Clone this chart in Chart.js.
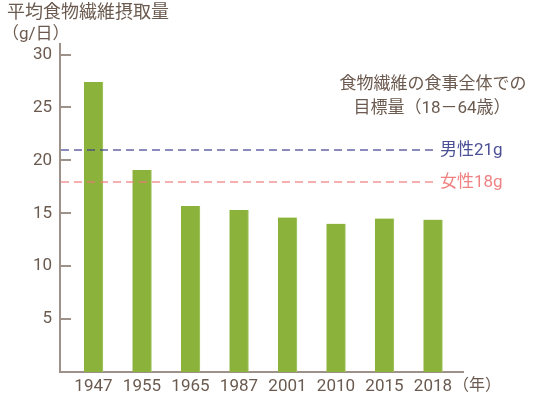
<!DOCTYPE html>
<html>
<head>
<meta charset="utf-8">
<script src="https://cdn.jsdelivr.net/npm/chart.js@4"></script>
<style>
  body { margin: 0; background: #fff; }
  canvas { display: block; }
</style>
</head>
<body>
<canvas id="chart" width="534" height="394"></canvas>
<script>
// data
const years = ['1947', '1955', '1965', '1987', '2001', '2010', '2015', '2018'];
const intake = [27.4, 19.1, 15.7, 15.3, 14.6, 14.0, 14.5, 14.4];
const yTicks = [5, 10, 15, 20, 25, 30];
const targetValues = [21, 18];
const targetLabels = ['男性21g', '女性18g'];
const targetColors = ['rgba(60,62,140,0.6)', 'rgba(240,120,120,0.6)'];
const targetTextColors = ['#4c5094', '#ef8282'];

const FONT = "Roboto, 'Noto Sans CJK JP', sans-serif";
const TEXT = '#6b5a4f';
const AXIS = '#9d918a';

const extras = {
  id: 'extras',
  afterDatasetsDraw(chart) {
    const { ctx, chartArea, scales: { x, y } } = chart;
    ctx.save();
    // reference lines
    ctx.lineWidth = 2;
    ctx.setLineDash([8, 5]);
    targetValues.forEach((v, i) => {
      const py = Math.round(y.getPixelForValue(v));
      ctx.strokeStyle = targetColors[i];
      ctx.beginPath();
      ctx.moveTo(chartArea.left + 1, py);
      ctx.lineTo(chartArea.right - 28, py);
      ctx.stroke();
      ctx.fillStyle = targetTextColors[i];
      ctx.font = '17px ' + FONT;
      ctx.textBaseline = 'middle';
      ctx.textAlign = 'left';
      ctx.fillText(targetLabels[i], chartArea.right - 23, py + 1);
    });
    ctx.setLineDash([]);
    // y tick marks on the inside of the axis
    ctx.strokeStyle = AXIS;
    ctx.lineWidth = 2;
    yTicks.forEach(v => {
      const py = Math.round(y.getPixelForValue(v));
      ctx.beginPath();
      ctx.moveTo(chartArea.left, py);
      ctx.lineTo(chartArea.left + 11, py);
      ctx.stroke();
    });
    // texts
    ctx.fillStyle = TEXT;
    ctx.textBaseline = 'alphabetic';
    ctx.textAlign = 'left';
    ctx.font = '18px ' + FONT;
    ctx.fillText('平均食物繊維摂取量', 7, 18);
    ctx.font = '17px ' + FONT;
    ctx.fillText('（g/日）', 2, 39);
    ctx.textAlign = 'center';
    ctx.font = '17px ' + FONT;
    ctx.fillText('食物繊維の食事全体での', 433, 89);
    ctx.fillText('目標量（18－64歳）', 432, 113);
    ctx.textAlign = 'left';
    ctx.font = '16px ' + FONT;
    const lastX = x.getPixelForValue(years.length - 1);
    ctx.fillText('（年）', lastX + 20, 390);
    ctx.restore();
  }
};

new Chart(document.getElementById('chart'), {
  type: 'bar',
  data: {
    datasets: [{
      data: intake.map((v, i) => ({ x: i, y: v })),
      backgroundColor: '#8bb23a',
      borderColor: '#a6c86a',
      borderWidth: { right: 1 },
      barThickness: 19
    }]
  },
  options: {
    responsive: false,
    devicePixelRatio: 1,
    animation: false,
    layout: { padding: { top: 44, right: 71, left: 0, bottom: 0 } },
    plugins: { legend: { display: false }, tooltip: { enabled: false } },
    scales: {
      x: {
        type: 'linear',
        offset: false,
        min: -0.69,
        max: 7.62,
        afterBuildTicks: axis => { axis.ticks = years.map((_, i) => ({ value: i })); },
        afterFit: axis => { axis.height = 22; },
        grid: { display: false, drawTicks: false, offset: false },
        border: { color: AXIS, width: 2 },
        ticks: {
          padding: 5,
          color: TEXT,
          font: { family: FONT, size: 17 },
          maxRotation: 0,
          autoSkip: false,
          callback: v => years[v]
        }
      },
      y: {
        min: 0,
        max: 31,
        afterBuildTicks: axis => { axis.ticks = yTicks.map(v => ({ value: v })); },
        afterFit: axis => { axis.width = 60; },
        grid: { display: false, drawTicks: false },
        border: { color: AXIS, width: 2 },
        ticks: {
          padding: 8,
          color: TEXT,
          font: { family: FONT, size: 17 }
        }
      }
    }
  },
  plugins: [extras]
});
</script>
</body>
</html>
